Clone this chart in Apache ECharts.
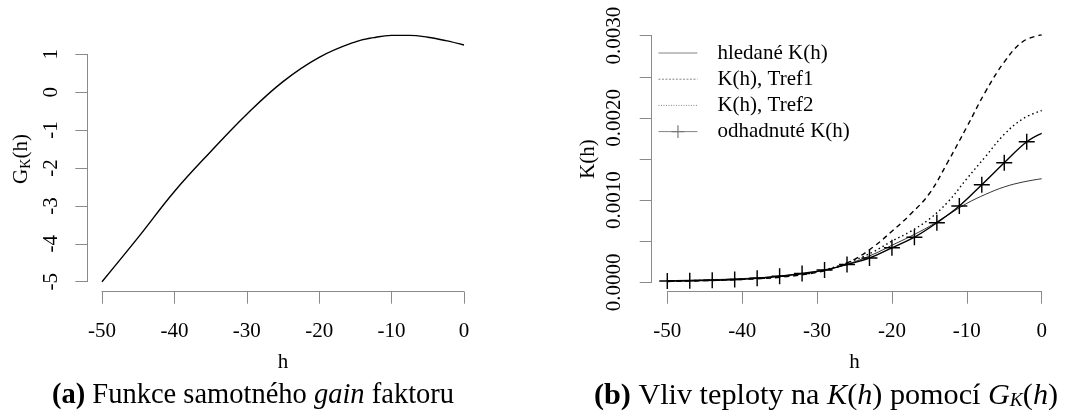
<!DOCTYPE html>
<html><head><meta charset="utf-8">
<script src="https://cdn.jsdelivr.net/npm/echarts@6/dist/echarts.min.js"></script>
<style>html,body{margin:0;padding:0;background:#fff}#c{width:1067px;height:416px}</style>
</head><body><div id="c"></div>
<script>
// ---- data ----
const gainH = [-50, -45, -40, -35, -30, -25, -20, -15, -12.5, -10, -7.5, -5, -2.5, 0];
const gainValues = [-5, -3.83, -2.62, -1.57, -0.58, 0.28, 0.92, 1.33, 1.44, 1.5, 1.5, 1.45, 1.36, 1.245];

const kH = [-50, -45, -40, -35, -30, -27.5, -25, -22.5, -20, -17.5, -15, -12.5, -10, -7.5, -5, -2.5, 0];
const kHledane = [0.00002, 0.00003, 0.000045, 0.000075, 0.00013, 0.00018, 0.00025, 0.00034, 0.00045, 0.00056, 0.00068, 0.00082, 0.00096, 0.00107, 0.00116, 0.00122, 0.00126];
const kTref1 = [0.00001, 0.00002, 0.000035, 0.00006, 0.00012, 0.00018, 0.00028, 0.00043, 0.00062, 0.00083, 0.00108, 0.00147, 0.00189, 0.00232, 0.00268, 0.00293, 0.00301];
const kTref2 = [0.000015, 0.000025, 0.00004, 0.00007, 0.00013, 0.00019, 0.00027, 0.00037, 0.0005, 0.00062, 0.00077, 0.00098, 0.00126, 0.00153, 0.0018, 0.00199, 0.00209];

const odhadH = [-50, -47, -44, -41, -38, -35, -32, -29, -26, -23, -20, -17, -14, -11, -8, -5, -2, 0];
const odhadK = [0.000016, 0.00002, 0.000024, 0.000034, 0.00005, 0.000073, 0.000107, 0.00015, 0.000217, 0.000296, 0.00042, 0.000549, 0.000725, 0.000928, 0.001187, 0.001454, 0.00171, 0.001813];

const seriesNames = ['hledané K(h)', 'K(h), Tref1', 'K(h), Tref2', 'odhadnuté K(h)'];

// ---- styling ----
const FF = 'Liberation Serif';
const AX = '#8a8a8a';
const LEG = '#777';
const TICK_FS = 21;

function zip(xs, ys) { return xs.map((x, i) => [x, ys[i]]); }

const odhadData = odhadH.map((h, i) =>
  i === odhadH.length - 1 ? { value: [h, odhadK[i]], symbol: 'none' } : [h, odhadK[i]]);

const plusPath = 'path://M-0.09,-1H0.09V-0.09H1V0.09H0.09V1H-0.09V0.09H-1V-0.09H-0.09Z';

const hiddenSymbol = { color: 'rgba(0,0,0,0)', borderColor: 'rgba(0,0,0,0)', borderWidth: 0, opacity: 0 };
const legendLineTypes = ['solid', [2, 1.5], [1, 1.5], 'solid'];
const legendData = seriesNames.map((n, i) => ({
  name: n,
  itemStyle: i < 3 ? hiddenSymbol : { color: LEG, borderWidth: 0 },
  lineStyle: { color: LEG, width: 0.9, type: legendLineTypes[i] }
}));

function xAxisCfg(gi, offset) {
  return {
    gridIndex: gi, type: 'value', min: -50, max: 0, interval: 10, offset: offset,
    axisLine: { show: true, onZero: false, lineStyle: { color: AX, width: 1 } },
    axisTick: { show: true, length: 12, lineStyle: { color: AX, width: 1 } },
    axisLabel: { color: '#000', fontFamily: FF, fontSize: TICK_FS, margin: 29 },
    splitLine: { show: false },
    name: 'h', nameLocation: 'middle', nameGap: 60,
    nameTextStyle: { color: '#000', fontFamily: FF, fontSize: 21 }
  };
}

const option = {
  animation: false,
  backgroundColor: '#fff',
  grid: [
    { left: 102, right: 603, top: 54.3, bottom: 134.3, outerBoundsMode: 'none', containLabel: false },
    { left: 667.3, right: 25.3, top: 35.7, bottom: 133.7, outerBoundsMode: 'none', containLabel: false }
  ],
  xAxis: [xAxisCfg(0, 10), xAxisCfg(1, 9.4)],
  yAxis: [
    {
      gridIndex: 0, type: 'value', min: -5, max: 1, interval: 1, offset: 14.7,
      axisLine: { show: true, onZero: false, lineStyle: { color: AX, width: 1 } },
      axisTick: { show: true, length: 12, lineStyle: { color: AX, width: 1 } },
      axisLabel: { color: '#000', fontFamily: FF, fontSize: TICK_FS, rotate: 90, margin: 25 },
      splitLine: { show: false },
      name: '{n|G}{s|K}{n|(h)}', nameLocation: 'middle', nameGap: 54,
      nameTextStyle: {
        color: '#000', fontFamily: FF, fontSize: 21, padding: [0, 0, 0, 18],
        rich: {
          n: { fontFamily: FF, fontSize: 21, color: '#000', lineHeight: 24 },
          s: { fontFamily: FF, fontSize: 14, color: '#000', lineHeight: 14, verticalAlign: 'bottom' }
        }
      }
    },
    {
      gridIndex: 1, type: 'value', min: 0, max: 0.003, interval: 0.0005, offset: 15.6,
      axisLine: { show: true, onZero: false, lineStyle: { color: AX, width: 1 } },
      axisTick: { show: true, length: 12, lineStyle: { color: AX, width: 1 } },
      axisLabel: {
        color: '#000', fontFamily: FF, fontSize: TICK_FS, rotate: 90, margin: 27,
        formatter: function (v) {
          const n = Math.round(v * 10000);
          return n % 10 === 0 ? (n / 10000).toFixed(4) : '';
        }
      },
      splitLine: { show: false },
      name: 'K(h)', nameLocation: 'middle', nameGap: 53,
      nameTextStyle: { color: '#000', fontFamily: FF, fontSize: 21 }
    }
  ],
  legend: {
    orient: 'vertical', left: 653, top: 37.5, itemWidth: 39, itemHeight: 16, itemGap: 5.2,
    selectedMode: false, data: legendData,
    textStyle: { color: '#000', fontFamily: FF, fontSize: 21, padding: [0, 0, 0, 15] }
  },
  series: [
    {
      type: 'line', xAxisIndex: 0, yAxisIndex: 0, data: zip(gainH, gainValues),
      smooth: 0.4, symbol: 'none', clip: false,
      lineStyle: { color: '#000', width: 1.4 }
    },
    {
      name: seriesNames[0], type: 'line', xAxisIndex: 1, yAxisIndex: 1, data: zip(kH, kHledane),
      smooth: 0.4, symbol: 'none', clip: false, itemStyle: { color: '#000' },
      lineStyle: { color: '#000', width: 0.8 }
    },
    {
      name: seriesNames[1], type: 'line', xAxisIndex: 1, yAxisIndex: 1, data: zip(kH, kTref1),
      smooth: 0.4, symbol: 'none', clip: false, itemStyle: { color: '#000' },
      lineStyle: { color: '#000', width: 1.4, type: [5, 4] }
    },
    {
      name: seriesNames[2], type: 'line', xAxisIndex: 1, yAxisIndex: 1, data: zip(kH, kTref2),
      smooth: 0.4, symbol: 'none', clip: false, itemStyle: { color: '#000' },
      lineStyle: { color: '#000', width: 1.4, type: [1.5, 3] }
    },
    {
      name: seriesNames[3], type: 'line', xAxisIndex: 1, yAxisIndex: 1, data: odhadData,
      smooth: 0.4, symbol: plusPath, symbolSize: 16, showSymbol: true, clip: false,
      itemStyle: { color: '#000' },
      lineStyle: { color: '#000', width: 1.4 }
    }
  ],
  graphic: [
    {
      type: 'text', x: 253, y: 396, silent: true,
      style: {
        text: '{b|(a)} {r|Funkce samotného }{i|gain}{r| faktoru}',
        align: 'center', verticalAlign: 'middle',
        rich: {
          b: { fontFamily: FF, fontSize: 28.5, fontWeight: 'bold', fill: '#000' },
          r: { fontFamily: FF, fontSize: 28.5, fill: '#000' },
          i: { fontFamily: FF, fontSize: 28.5, fontStyle: 'italic', fill: '#000' }
        },
        fontFamily: FF, fontSize: 28.5, fill: '#000'
      }
    },
    {
      type: 'text', x: 826, y: 396, silent: true,
      style: {
        text: '{b|(b)} {r|Vliv teploty na }{i|K}{r|(}{i|h}{r|) pomocí }{i|G}{s|K}{r|(}{i|h}{r|)}',
        align: 'center', verticalAlign: 'middle',
        rich: {
          b: { fontFamily: FF, fontSize: 30.2, fontWeight: 'bold', fill: '#000' },
          r: { fontFamily: FF, fontSize: 30.2, fill: '#000' },
          i: { fontFamily: FF, fontSize: 30.2, fontStyle: 'italic', fill: '#000' },
          s: { fontFamily: FF, fontSize: 19.5, fontStyle: 'italic', fill: '#000', verticalAlign: 'bottom', lineHeight: 19.5 }
        },
        fontFamily: FF, fontSize: 30.2, fill: '#000'
      }
    }
  ]
};

const chart = echarts.init(document.getElementById('c'), null, { renderer: 'canvas' });
chart.setOption(option);
</script>
</body></html>
